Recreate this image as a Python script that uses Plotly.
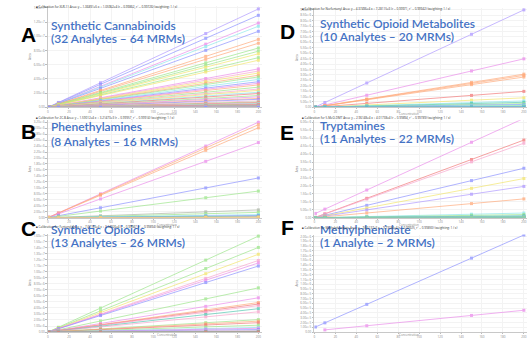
import plotly.graph_objects as go

W, H = 530, 343

# calibration levels (ng/mL)
conc = [1, 10, 50, 150, 200]

# relative response at top calibrator (fraction of panel full scale), one per MRM
A_top = [0.99, 0.926, 0.848, 0.816, 0.765, 0.684, 0.645, 0.597, 0.565, 0.539, 0.50, 0.474,
         0.387, 0.365, 0.345, 0.323, 0.306, 0.281, 0.258, 0.242, 0.226, 0.203, 0.184, 0.171,
         0.152, 0.139, 0.119, 0.106, 0.090, 0.081, 0.065, 0.055, 0.048, 0.042, 0.037, 0.032,
         0.028, 0.023, 0.020, 0.016, 0.014, 0.012, 0.010, 0.009, 0.008, 0.007, 0.006, 0.0055,
         0.005, 0.0045, 0.004, 0.0035, 0.003, 0.0028, 0.0025, 0.0022, 0.002, 0.0018, 0.0016,
         0.0014, 0.0012, 0.001, 0.0008, 0.0006]
A_col = "vbmcbooggygympyogcbmogpycrgmobpgrpcgrmotbyrpgcrmopgtrcbmyrpogc"
B_top = [1.0, 0.974, 0.941, 0.787, 0.416, 0.279, 0.082, 0.056, 0.033, 0.023, 0.016, 0.010,
         0.008, 0.006, 0.005, 0.004]
B_col = "moombgkgcbtgcrpy"
C_top = [0.994, 0.877, 0.806, 0.742, 0.716, 0.684, 0.458, 0.355, 0.306, 0.29, 0.274, 0.242,
         0.21, 0.129, 0.113, 0.097, 0.071, 0.048, 0.039, 0.026, 0.016, 0.010, 0.006, 0.004,
         0.003, 0.002]
C_col = "ggypmbgmorptpgorgcmbpcbgtr"
D_top = [1.0, 0.498, 0.341, 0.328, 0.311, 0.164, 0.098, 0.066, 0.052, 0.039, 0.030, 0.023,
         0.016, 0.010, 0.008, 0.006, 0.005, 0.004, 0.003, 0.002]
D_col = "vmoooryctgbcgtnbgcbt"
E_top = [1.0, 0.813, 0.780, 0.518, 0.41, 0.328, 0.197, 0.049, 0.033, 0.020, 0.015, 0.010,
         0.008, 0.007, 0.006, 0.005, 0.004, 0.0035, 0.003, 0.0025, 0.002, 0.0015]
E_col = "mrpbyvocgtbgcgtbgcgtbg"
E_int = [0.04] + [0.0] * 21
F_top = [0.968, 0.216]
F_col = "bm"
F_int = [0.048, 0.012]
F_first = [0, 1]

PAL = {'b': '#8a90ff', 'v': '#ad96ff', 'm': '#ea8aea', 'c': '#8ae6ea', 'o': '#ffa878',
       'y': '#f2e46a', 'g': '#9ae488', 'r': '#f27676', 'p': '#f7a4cc', 't': '#4fc6b0',
       'k': '#aab4a4', 'n': '#5b88ff'}

panels = [
    dict(L='A', t1='Synthetic Cannabinoids', t2='(32 Analytes \u2013 64 MRMs)', top=A_top, col=A_col,
         box=(47, 261, 6, 108), fs=1.4e7, dt=0.2e7, cap='Calibration for XLR-11 Area: y = 1.36891e5 x + 1.05962e4 (r = 0.99862, r\u00b2 = 0.99726) (weighting: 1 / x)',
         lx=18, ly=21, tx=48, ty1=16, ty2=29),
    dict(L='B', t1='Phenethylamines', t2='(8 Analytes \u2013 16 MRMs)', top=B_top, col=B_col,
         box=(47, 261, 121, 219), fs=3.2e6, dt=0.2e6, cap='Calibration for 2C-B Area: y = 1.59012e4 x + 3.21473e3 (r = 0.99957, r\u00b2 = 0.99914) (weighting: 1 / x)',
         lx=18, ly=132, tx=48, ty1=127, ty2=142),
    dict(L='C', t1='Synthetic Opioids', t2='(13 Analytes \u2013 26 MRMs)', top=C_top, col=C_col,
         box=(47, 261, 235, 334), fs=1.6e7, dt=0.1e7, cap='Calibration for Fentanyl Area: y = 7.67153e4 x + 3.14926e4 (r = 0.99947, r\u00b2 = 0.99894) (weighting: 1 / x)',
         lx=18, ly=243, tx=48, ty1=240, ty2=253),
    dict(L='D', t1='Synthetic Opioid Metabolites', t2='(10 Analytes \u2013 20 MRMs)', top=D_top, col=D_col,
         box=(314, 527, 8, 108), fs=9.0e6, dt=0.5e6, cap='Calibration for Norfentanyl Area: y = 4.37496e4 x + 7.28115e3 (r = 0.99971, r\u00b2 = 0.99942) (weighting: 1 / x)',
         lx=287, ly=18, tx=318, ty1=14, ty2=27),
    dict(L='E', t1='Tryptamines', t2='(11 Analytes \u2013 22 MRMs)', top=E_top, col=E_col, ic=E_int,
         box=(314, 527, 121, 219), fs=6.0e6, dt=0.5e6, cap='Calibration for 5-MeO-DMT Area: y = 2.96148e4 x + 4.01738e4 (r = 0.99894, r\u00b2 = 0.99789) (weighting: 1 / x)',
         lx=287, ly=133, tx=318, ty1=126, ty2=139),
    dict(L='F', t1='Methylphenidate', t2='(1 Analyte \u2013 2 MRMs)', top=F_top, col=F_col, ic=F_int, first=F_first,
         box=(314, 527, 236, 334), fs=2.0e6, dt=0.1e6, cap='Calibration for Methylphenidate Area: y = 9.65137e3 x + 9.73184e4 (r = 0.99925, r\u00b2 = 0.99850) (weighting: 1 / x)',
         lx=287, ly=242, tx=318, ty1=240, ty2=253),
]

fig = go.Figure()
layout = dict(width=W, height=H, margin=dict(l=0, r=0, t=0, b=0), paper_bgcolor='white',
              plot_bgcolor='white', showlegend=False, annotations=[], shapes=[])

def px(x):
    return x / W

def py(y):
    return 1 - y / H

TFONT = 'Lato, Open Sans'

for i, p in enumerate(panels):
    n = '' if i == 0 else str(i + 1)
    x0, x1, y0, y1 = p['box']
    ax = dict(domain=[px(x0), px(x1)], range=[0, 203], showgrid=True, gridcolor='#f3f3f3',
              gridwidth=0.5, dtick=20, showline=True, linecolor='#c8c8c8', linewidth=1,
              ticks='outside', ticklen=1, tickcolor='#bbbbbb', zeroline=False,
              tickfont=dict(size=3, color='#888888'), anchor='y' + n)
    ay = dict(domain=[py(y1), py(y0)], range=[0, p['fs'] * 1.02], showgrid=True, gridcolor='#f3f3f3',
              gridwidth=0.5, dtick=p['dt'], showline=True, linecolor='#c8c8c8', linewidth=1,
              ticks='outside', ticklen=1.5, tickcolor='#bbbbbb', zeroline=False, exponentformat='e',
              tickformat='.3g', tickfont=dict(size=3, color='#888888'), anchor='x' + n,
              title=dict(text='Area', font=dict(size=3, color='#888888'), standoff=2))
    layout['xaxis' + n] = ax
    layout['yaxis' + n] = ay
    ics = p.get('ic', [0.0] * len(p['top']))
    firsts = p.get('first', [0] * len(p['top']))
    for k in range(len(p['top'])):
        xs = conc[firsts[k]:]
        ys = [(ics[k] + p['top'][k] * (c / 200.0)) * p['fs'] for c in xs]
        colr = PAL[p['col'][k % len(p['col'])]]
        fig.add_trace(go.Scatter(x=xs, y=ys, mode='lines+markers', xaxis='x' + n, yaxis='y' + n,
                                 line=dict(color=colr, width=0.9), opacity=0.75,
                                 marker=dict(symbol='square', size=3, color=colr),
                                 hoverinfo='skip', showlegend=False))
    A = layout['annotations']
    A.append(dict(text='<b>' + p['L'] + '</b>', x=px(p['lx']), y=py(p['ly']), xref='paper', yref='paper',
                  showarrow=False, font=dict(family='Liberation Sans, Arial', size=21, color='black')))
    A.append(dict(text=p['t1'], x=px(p['tx']), y=py(p['ty1']), xref='paper', yref='paper', xanchor='left',
                  showarrow=False, font=dict(family=TFONT, size=12, color='#4472c4', weight=600)))
    A.append(dict(text=p['t2'], x=px(p['tx']), y=py(p['ty2']), xref='paper', yref='paper', xanchor='left',
                  showarrow=False, font=dict(family=TFONT, size=12, color='#4472c4', weight=600)))
    cx = x0 - 14
    A.append(dict(text='\u25a0 ' + p['cap'], x=px(cx), y=py(y0 - 2.5), xref='paper', yref='paper',
                  xanchor='left', showarrow=False, font=dict(size=3, color='#333333')))
    # x-axis title, placed just under the tick labels
    A.append(dict(text='Concentration', x=px((x0 + x1) / 2), y=py(y1 + 7), xref='paper', yref='paper',
                  showarrow=False, font=dict(size=3, color='#888888')))

fig.update_layout(**layout)
fig.write_html('out.html')
